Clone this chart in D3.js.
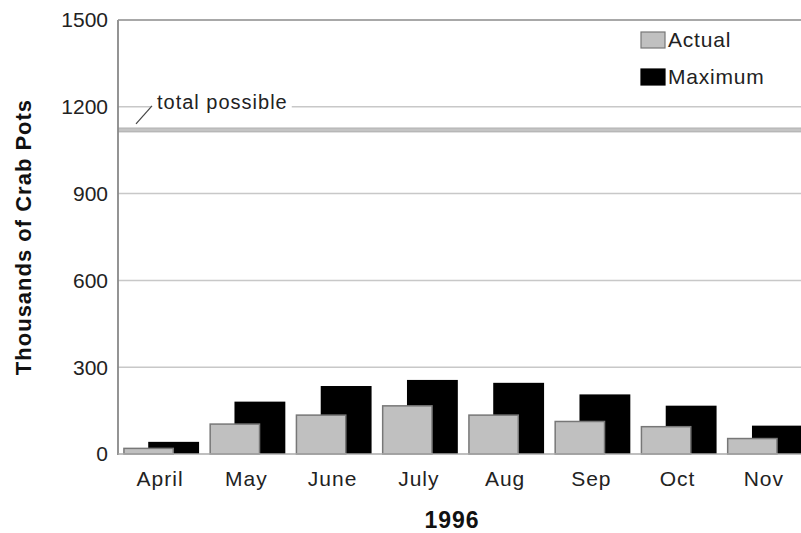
<!DOCTYPE html>
<html><head><meta charset="utf-8">
<script src="https://cdn.jsdelivr.net/npm/d3@7/dist/d3.min.js"></script>
<style>body{margin:0;background:#fff}svg{display:block;font-family:"Liberation Sans",Arial,sans-serif}</style>
</head><body><svg id="c" width="801" height="533"></svg>
<script>
const months = ["April","May","June","July","Aug","Sep","Oct","Nov"];
const actual = [22,106,137,169,137,115,97,56];
const maximum = [42,181,235,256,246,206,167,98];
const yTicks = [0,300,600,900,1200,1500];
const totalPossible = 1120;
const seriesNames = ["Actual","Maximum"];

const svg = d3.select("#c");
const L = 118, R = 808, T = 20, B = 454;
const x = d3.scaleBand().domain(months).range([L, R]).padding(0);
const y = d3.scaleLinear().domain([0,1500]).range([B, T]);

// gridlines
svg.append("g").selectAll("line").data(yTicks.filter(d=>d>0)).join("line")
  .attr("x1", L).attr("x2", 801).attr("y1", d=>y(d)).attr("y2", d=>y(d))
  .attr("stroke", "#c8c8c8").attr("stroke-width", 1.5);

// total possible line
svg.append("line").attr("x1", L).attr("x2", 801)
  .attr("y1", y(totalPossible)).attr("y2", y(totalPossible))
  .attr("stroke", "#c4c4c4").attr("stroke-width", 4);
[-2,2].forEach(o=>svg.append("line").attr("x1", L).attr("x2", 801)
  .attr("y1", y(totalPossible)+o).attr("y2", y(totalPossible)+o)
  .attr("stroke", "#aaa").attr("stroke-width", 0.8));

// label for total possible
const tp = svg.append("text").attr("x", 157).attr("y", y(1200)+2)
  .attr("font-size", 20).attr("letter-spacing", 1).attr("fill", "#222").text("total possible");
const bb = tp.node().getBBox();
svg.insert("rect", "text").attr("x", bb.x-6).attr("y", bb.y).attr("width", bb.width+10).attr("height", bb.height).attr("fill", "#fff");
svg.append("line").attr("x1", 136).attr("y1", y(1200)+17).attr("x2", 152).attr("y2", y(1200)-1)
  .attr("stroke", "#444").attr("stroke-width", 1.2);

// bars
const gw = x.bandwidth()*0.88, bw = gw*0.67, off = gw - bw;
const g0 = d => x(d) + (x.bandwidth()-gw)/2;
svg.append("g").selectAll("rect").data(months).join("rect")
  .attr("x", (d)=>g0(d)+off).attr("width", bw)
  .attr("y", (d,i)=>y(maximum[i])).attr("height", (d,i)=>B-y(maximum[i]))
  .attr("fill", "#000");
svg.append("g").selectAll("rect").data(months).join("rect")
  .attr("x", (d)=>g0(d)+0.75).attr("width", bw-1.5)
  .attr("y", (d,i)=>y(actual[i])+0.75).attr("height", (d,i)=>B-y(actual[i])-0.75)
  .attr("fill", "#c0c0c0").attr("stroke", "#777").attr("stroke-width", 1.5);

// axes lines
svg.append("line").attr("x1", L).attr("x2", L).attr("y1", T).attr("y2", B+1).attr("stroke", "#888").attr("stroke-width", 1.8);
svg.append("line").attr("x1", L).attr("x2", 801).attr("y1", B).attr("y2", B).attr("stroke", "#aaa").attr("stroke-width", 1.5);
svg.append("line").attr("x1", L).attr("x2", 801).attr("y1", T).attr("y2", T).attr("stroke", "#999").attr("stroke-width", 1.5);

// y tick labels
svg.append("g").selectAll("text").data(yTicks).join("text")
  .attr("x", 108).attr("y", d=>y(d)).attr("dy", "0.35em").attr("text-anchor", "end")
  .attr("font-size", 21).attr("fill", "#222").text(d=>d);

// x tick labels
svg.append("g").selectAll("text").data(months).join("text")
  .attr("x", d=>x(d)+x.bandwidth()/2 - 1).attr("y", 486).attr("text-anchor", "middle")
  .attr("font-size", 21).attr("letter-spacing", 1).attr("fill", "#222").text(d=>d);

// axis titles
svg.append("text").attr("x", 452).attr("y", 528).attr("text-anchor", "middle")
  .attr("font-size", 23).attr("letter-spacing", 1).attr("font-weight", "bold").attr("fill", "#111").text("1996");
svg.append("text").attr("transform", "translate(31,237) rotate(-90)").attr("text-anchor", "middle")
  .attr("font-size", 22).attr("letter-spacing", 1).attr("font-weight", "bold").attr("fill", "#111").text("Thousands of Crab Pots");

// legend
const lg = svg.append("g");
const colors = ["#c0c0c0", "#000"];
seriesNames.forEach((s,i)=>{
  const yy = 32 + i*37;
  lg.append("rect").attr("x", 641).attr("y", yy).attr("width", 24).attr("height", 16)
    .attr("fill", colors[i]).attr("stroke", i===0?"#777":"#000").attr("stroke-width", 1.2);
  lg.append("text").attr("x", 668).attr("y", yy+8).attr("dy", "0.35em")
    .attr("font-size", 21).attr("letter-spacing", 0.8).attr("fill", "#222").text(s);
});
</script></body></html>
